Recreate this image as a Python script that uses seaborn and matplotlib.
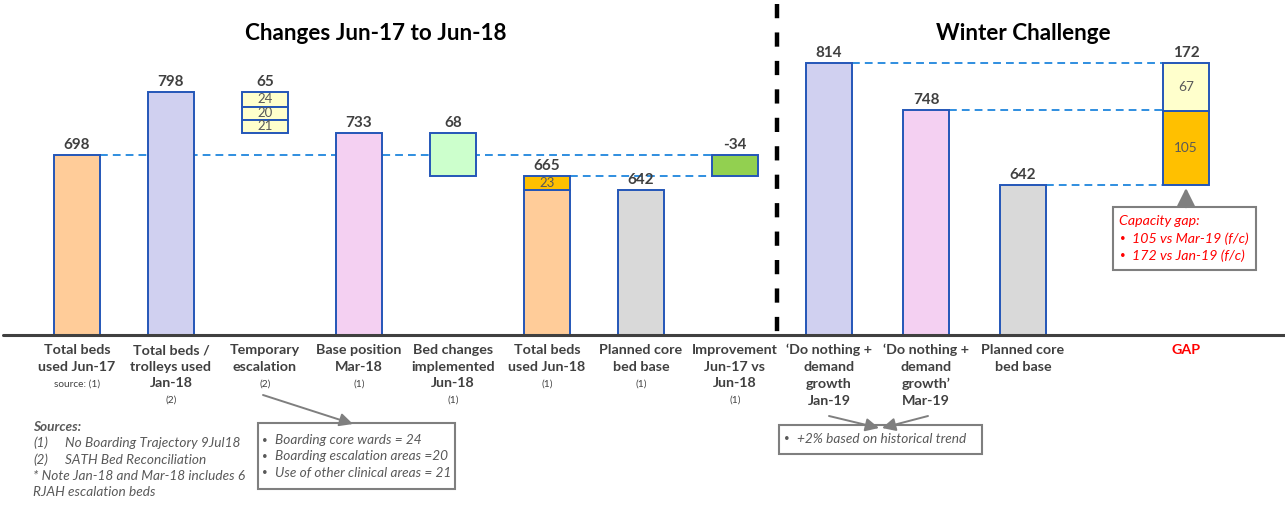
import matplotlib
matplotlib.use("Agg")
import matplotlib.pyplot as plt
import seaborn as sns
import pandas as pd
from matplotlib.patches import Rectangle, FancyArrowPatch
from matplotlib.lines import Line2D

# ---------------------------------------------------------------- data
left_cats = ["Jun-17", "Jan-18", "Temp", "Mar-18", "BedChg", "Jun-18", "Planned", "Improve"]
left_labels = [
    "Total beds\nused Jun-17",
    "Total beds /\ntrolleys used\nJan-18",
    "Temporary\nescalation",
    "Base position\nMar-18",
    "Bed changes\nimplemented\nJun-18",
    "Total beds\nused Jun-18",
    "Planned core\nbed base",
    "Improvement\nJun-17 vs\nJun-18",
]
left_sources = ["source: (1)", "(2)", "(2)", "(1)", "(1)", "(1)", "(1)", "(1)"]

beds_jun17 = 698
beds_jan18 = 798
escalation_parts = [24, 20, 21]          # core wards, escalation areas, other clinical areas
beds_mar18 = 733
bed_changes = 68
planned_core = 642
jun18_above_core = 23
improvement = -34

right_cats = ["Jan-19", "Mar-19", "Planned"]
right_labels = [
    "\u2018Do nothing +\ndemand\ngrowth\nJan-19",
    "\u2018Do nothing +\ndemand\ngrowth\u2019\nMar-19",
    "Planned core\nbed base",
]
do_nothing_jan19 = 814
do_nothing_mar19 = 748
gap_parts = [105, 67]                    # vs Mar-19, extra vs Jan-19

escalation_notes = ["Boarding core wards = 24",
                    "Boarding escalation areas =20",
                    "Use of other clinical areas = 21"]
growth_note = "+2% based on historical trend"
gap_notes = ["105 vs Mar-19 (f/c)", "172 vs Jan-19 (f/c)"]
source_lines = [("(1)", "No Boarding Trajectory 9Jul18"),
                ("(2)", "SATH Bed Reconciliation")]
footnote = ["* Note Jan-18 and Mar-18 includes 6", "RJAH escalation beds"]

# ---------------------------------------------------------------- style
sns.set_theme(style="white")
plt.rcParams["font.family"] = ["Lato", "DejaVu Sans"]

W, H = 1285, 508
EDGE = "#2456b8"
DASH_BLUE = "#2f8ee0"
DARK = "#404040"
GREY = "#595959"
BOX_GREY = "#7f7f7f"
RED = "#ff0000"
PEACH, LAVENDER, PINK, LGREY = "#ffcc99", "#d0d0f0", "#f4d0f2", "#d9d9d9"
LGREEN, GREEN, ORANGE, LYELLOW = "#ccffcc", "#92d050", "#ffc000", "#ffffcc"

NOTE_FS = 9.8


def fx(px):
    return px / W


def fy(py):
    return 1 - py / H


fig = plt.figure(figsize=(W / 100, H / 100), dpi=100)
base_py, top_py = 335, 10
axL = fig.add_axes([fx(3), fy(base_py), fx(777) - fx(3), fy(top_py) - fy(base_py)])
axR = fig.add_axes([fx(777), fy(base_py), fx(1285) - fx(777), fy(top_py) - fy(base_py)])

bar_kw = dict(edgecolor=EDGE, linewidth=1.4)

# ---------------------------------------------------------------- left panel
LW = 0.49
ground = pd.DataFrame({
    "cat": ["Jun-17", "Jan-18", "Mar-18", "Jun-18", "Planned"],
    "beds": [beds_jun17, beds_jan18, beds_mar18, planned_core, planned_core],
})
pal_left = {"Jun-17": PEACH, "Jan-18": LAVENDER, "Mar-18": PINK,
            "Jun-18": PEACH, "Planned": LGREY}
sns.barplot(data=ground, x="cat", y="beds", order=left_cats, hue="cat",
            palette=pal_left, width=LW, dodge=False, errorbar=None,
            legend=False, ax=axL, saturation=1, zorder=3, **bar_kw)

# temporary escalation stack hanging from the Jan-18 level
bottom = beds_jan18
for part in escalation_parts:
    bottom -= part
    axL.bar(2, part, bottom=bottom, width=LW, color=LYELLOW, zorder=3, **bar_kw)
    axL.text(2, bottom + part / 2, str(part), ha="center", va="center",
             fontsize=9.5, color=GREY, zorder=4)

# bed changes implemented (Mar-18 down to Jun-18)
jun18_total = planned_core + jun18_above_core
axL.bar(4, bed_changes, bottom=beds_mar18 - bed_changes, width=LW,
        color=LGREEN, zorder=3, **bar_kw)
# Jun-18 above planned core
axL.bar(5, jun18_above_core, bottom=planned_core, width=LW, color=ORANGE,
        zorder=3, **bar_kw)
axL.text(5, planned_core + jun18_above_core / 2, str(jun18_above_core),
         ha="center", va="center", fontsize=9.5, color=GREY, zorder=4)
# improvement Jun-17 vs Jun-18
axL.bar(7, -improvement, bottom=beds_jun17 + improvement, width=LW,
        color=GREEN, zorder=3, **bar_kw)

# connector lines
axL.hlines(beds_jun17, 0 + LW / 2, 7 - LW / 2, colors=DASH_BLUE,
           linestyles=(0, (4, 2.6)), linewidth=1.4, zorder=2)
axL.hlines(jun18_total, 5 + LW / 2, 7 - LW / 2, colors=DASH_BLUE,
           linestyles=(0, (4, 2.6)), linewidth=1.4, zorder=2)

val_kw = dict(ha="center", va="bottom", fontsize=11, fontweight="bold",
              color=DARK, textcoords="offset points", xytext=(0, 2), zorder=5)
for x, v, lab in [(0, beds_jun17, beds_jun17), (1, beds_jan18, beds_jan18),
                  (2, beds_jan18, sum(escalation_parts)), (3, beds_mar18, beds_mar18),
                  (4, beds_mar18, bed_changes), (5, jun18_total, jun18_total),
                  (6, planned_core, planned_core), (7, beds_jun17, improvement)]:
    axL.annotate(str(lab), (x, v), **val_kw)

axL.set_xlim(-0.787, 7.447)
axL.set_ylim(412, 928)

# ---------------------------------------------------------------- right panel
RW = 0.475
GAP_X = 3.68
ground_r = pd.DataFrame({"cat": right_cats,
                         "beds": [do_nothing_jan19, do_nothing_mar19, planned_core]})
pal_right = {"Jan-19": LAVENDER, "Mar-19": PINK, "Planned": LGREY}
sns.barplot(data=ground_r, x="cat", y="beds", order=right_cats, hue="cat",
            palette=pal_right, width=RW, dodge=False, errorbar=None,
            legend=False, ax=axR, saturation=1, zorder=3, **bar_kw)

bottom = planned_core
for part, col in zip(gap_parts, [ORANGE, LYELLOW]):
    axR.bar(GAP_X, part, bottom=bottom, width=RW, color=col, zorder=3, **bar_kw)
    axR.text(GAP_X, bottom + part / 2, str(part), ha="center", va="center",
             fontsize=9.8, color=GREY, zorder=4)
    bottom += part

for x0, yv in [(0, do_nothing_jan19), (1, do_nothing_mar19), (2, planned_core)]:
    axR.hlines(yv, x0 + RW / 2, GAP_X - RW / 2, colors=DASH_BLUE,
               linestyles=(0, (4, 2.6)), linewidth=1.4, zorder=2)

for x, v, lab in [(0, do_nothing_jan19, do_nothing_jan19),
                  (1, do_nothing_mar19, do_nothing_mar19),
                  (2, planned_core, planned_core),
                  (GAP_X, planned_core + sum(gap_parts), sum(gap_parts))]:
    axR.annotate(str(lab), (x, v), **val_kw)

axR.set_xlim(-0.536, 4.70)
axR.set_ylim(431, 889)

for ax in (axL, axR):
    ax.axis("off")

# ---------------------------------------------------------------- category labels
LINE_PT = 11.9          # line pitch of the category labels, in points
lab_kw = dict(xycoords=("data", "axes fraction"), textcoords="offset points",
              ha="center", va="top", fontsize=10.3, fontweight="bold",
              color=DARK, linespacing=1.47)
for i, (lab, src) in enumerate(zip(left_labels, left_sources)):
    n = lab.count("\n") + 1
    axL.annotate(lab, (i, 0), xytext=(0, -6.5), **lab_kw)
    axL.annotate(src, (i, 0), xytext=(0, -7.5 - n * LINE_PT - 0.5),
                 xycoords=("data", "axes fraction"), textcoords="offset points",
                 ha="center", va="top", fontsize=7.3, color=DARK)
for i, lab in enumerate(right_labels):
    axR.annotate(lab, (i, 0), xytext=(0, -6.5), **lab_kw)
axR.annotate("GAP", (GAP_X, 0), xytext=(0, -6.5),
             **{**lab_kw, "color": RED})

# ---------------------------------------------------------------- titles
fig.text(fx(376), fy(33), "Changes Jun-17 to Jun-18", ha="center", va="center",
         fontsize=16.2, fontweight="bold", color="black")
fig.text(fx(1023), fy(33), "Winter Challenge", ha="center", va="center",
         fontsize=16.2, fontweight="bold", color="black")

# ---------------------------------------------------------------- frame lines
fig.add_artist(Line2D([fx(3), fx(1285)], [fy(335), fy(335)], color=DARK,
                      linewidth=2.2))
fig.add_artist(Line2D([fx(777), fx(777)], [fy(4), fy(333)], color="black",
                      linewidth=3.2, linestyle=(0, (3.2, 3.2))))


# ---------------------------------------------------------------- note boxes
def box(x0, y0, x1, y1):
    fig.add_artist(Rectangle((fx(x0), fy(y1)), fx(x1) - fx(x0), fy(y0) - fy(y1),
                             facecolor="white", edgecolor=BOX_GREY, linewidth=1.5))


def arrow(x0, y0, x1, y1, width=1.4, head=8):
    fig.add_artist(FancyArrowPatch((fx(x0), fy(y0)), (fx(x1), fy(y1)),
                                   transform=fig.transFigure,
                                   arrowstyle=f"-|>,head_length={head/12:.2f},head_width={head/24:.2f}",
                                   mutation_scale=12, color=BOX_GREY,
                                   linewidth=width, shrinkA=0, shrinkB=0))


box(258, 423, 455, 489)
arrow(263, 395, 353, 424)
for k, line in enumerate(escalation_notes):
    yy = 440 + k * 16.5
    fig.text(fx(265), fy(yy), "\u2022", ha="center", va="center", fontsize=7, color=GREY)
    fig.text(fx(275), fy(yy), line, ha="left", va="center", fontsize=NOTE_FS,
             style="italic", color=GREY)

box(779, 425, 982, 454)
arrow(829, 416, 879, 428)
arrow(928, 416, 882, 428)
fig.text(fx(787), fy(439), "\u2022", ha="center", va="center", fontsize=7, color=GREY)
fig.text(fx(797), fy(439), growth_note, ha="left", va="center", fontsize=NOTE_FS,
         style="italic", color=GREY)

box(1113, 207, 1256, 270)
arrow(1186, 207, 1186, 188, width=1.8, head=11)
fig.text(fx(1119), fy(221), "Capacity gap:", ha="left", va="center", fontsize=10.2,
         style="italic", color=RED)
for k, line in enumerate(gap_notes):
    yy = 239 + k * 16.5
    fig.text(fx(1123), fy(yy), "\u2022", ha="center", va="center", fontsize=7, color=RED)
    fig.text(fx(1132), fy(yy), line, ha="left", va="center", fontsize=10.2,
             style="italic", color=RED)

# ---------------------------------------------------------------- sources
fig.text(fx(33), fy(427), "Sources:", ha="left", va="center", fontsize=NOTE_FS,
         style="italic", fontweight="bold", color=GREY)
for k, (tag, txt) in enumerate(source_lines):
    yy = 443 + k * 16.5
    fig.text(fx(33), fy(yy), tag, ha="left", va="center", fontsize=NOTE_FS,
             style="italic", color=GREY)
    fig.text(fx(65), fy(yy), txt, ha="left", va="center", fontsize=NOTE_FS,
             style="italic", color=GREY)
for k, txt in enumerate(footnote):
    fig.text(fx(33), fy(476 + k * 16.5), txt, ha="left", va="center", fontsize=NOTE_FS,
             style="italic", color=GREY)

fig.savefig("out.png", dpi=100, facecolor="white")
